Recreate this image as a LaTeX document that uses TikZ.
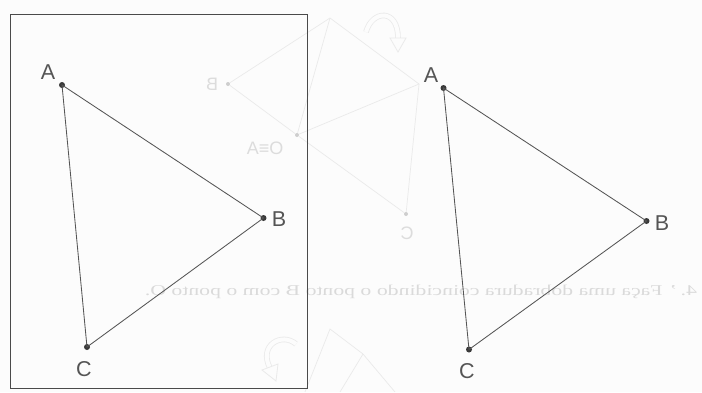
\documentclass[tikz,border=0pt]{standalone}
\usepackage{fontspec}
\setmainfont{Liberation Serif}
\newfontfamily\labfont{Liberation Sans}
\usetikzlibrary{arrows.meta}
\definecolor{inkline}{HTML}{555555}
\definecolor{inkdot}{HTML}{3A3A3A}
\definecolor{framecol}{HTML}{4A4A4A}
\definecolor{faintline}{HTML}{EAEAEA}
\definecolor{fainttext}{HTML}{DADADA}
\definecolor{paper}{HTML}{FCFCFC}
\tikzset{
  vdot/.style={circle, fill=inkdot, inner sep=0pt, minimum size=6pt},
  fdot/.style={circle, fill=faintline!88!black, inner sep=0pt, minimum size=4pt},
  side/.style={draw=inkline, line width=0.85pt},
  lab/.style={font=\labfont\fontsize{21.5}{21.5}\selectfont, text=inkline, inner sep=0pt},
  flab/.style={font=\labfont\fontsize{18}{18}\selectfont, text=faintline!94!black, inner sep=0pt, xscale=-1},
  fline/.style={draw=faintline, line width=0.7pt},
  ftext/.style={font=\fontsize{15}{15}\selectfont, text=fainttext, inner sep=0pt, xscale=-1},
  framebox/.style={draw=framecol, line width=1pt},
  farrow/.style={draw=faintline, line width=0.8pt, double=paper, double distance=4pt}
}
\begin{document}
\begin{tikzpicture}[x=1pt,y=-1pt]
\fill[paper] (0,0) rectangle (702,392);
\useasboundingbox (0,0) rectangle (702,392);

% ---- faint show-through from the back of the page ----
\coordinate (fT) at (330,18);
\node[fdot] (fB) at (228,84) {};
\node[fdot] (fO) at (297,135) {};
\coordinate (fA) at (419,84);
\node[fdot] (fC) at (406,214) {};
\draw[fline] (fB) -- (fT) -- (fA) -- (fO) -- (fB);
\draw[fline] (fT) -- (fO);
\draw[fline] (fO) -- (fC) -- (fA);
\node[flab] (fBl) at (212,84) {B};
\node[flab] (fOl) at (265,148) {O≡A};
\node[flab] (fCl) at (407,233) {C};
\draw[farrow] (366,32) .. controls (372,10) and (398,8) .. (398,38);
\draw[faintline, line width=0.8pt, fill=paper] (390,38) -- (406,38) -- (398,52) -- cycle;
\draw[farrow] (296,344) .. controls (282,332) and (258,345) .. (270,368);
\draw[faintline, line width=0.8pt, fill=paper] (262,370) -- (278,364) -- (276,381) -- cycle;
\coordinate (gT) at (330,329);
\coordinate (gR) at (363,354);
\draw[fline] (305,392) -- (gT) -- (gR) -- (395,392);
\draw[fline] (gR) -- (340,392);
\node[ftext] (ftxt) at (421,292) {\resizebox{552pt}{\height}{4.\,' Faça uma dobradura coincidindo o ponto B com o ponto O.}};

% ---- frame ----
\draw[framebox] (10,14.5) rectangle (307.5,388);

% ---- left triangle ----
\node[vdot] (A1) at (62,85) {};
\node[vdot] (B1) at (263.5,218) {};
\node[vdot] (C1) at (87,347) {};
\draw[side] (A1.center) -- (B1.center) -- (C1.center) -- cycle;
\node[lab] (A1l) at (48,72) {A};
\node[lab] (B1l) at (279,219) {B};
\node[lab] (C1l) at (84,369) {C};

% ---- right triangle ----
\node[vdot] (A2) at (443.5,88) {};
\node[vdot] (B2) at (646.5,221) {};
\node[vdot] (C2) at (469,349.5) {};
\draw[side] (A2.center) -- (B2.center) -- (C2.center) -- cycle;
\node[lab] (A2l) at (431,75) {A};
\node[lab] (B2l) at (662,223) {B};
\node[lab] (C2l) at (467,371) {C};
\end{tikzpicture}
\end{document}
